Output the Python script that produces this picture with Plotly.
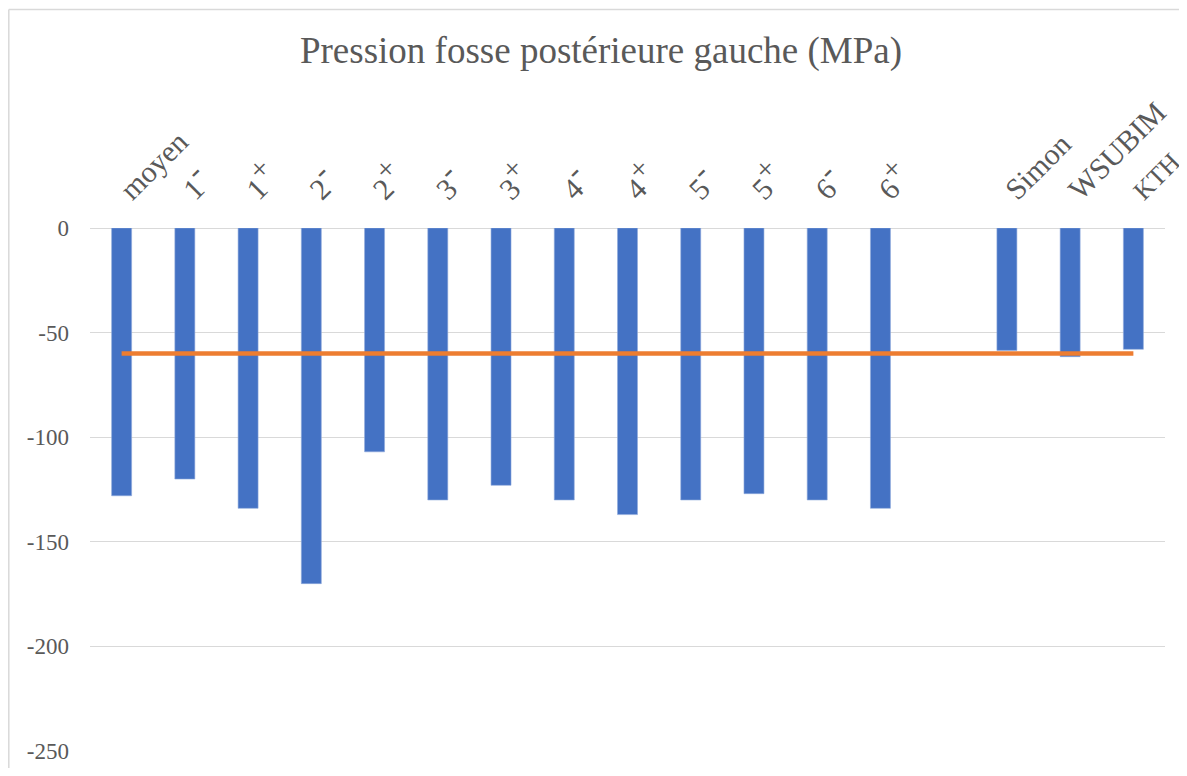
import plotly.graph_objects as go

SM = "<sup><span style='font-size:31px'>-</span></sup>"
SP = "<sup><span style='font-size:30px'>+</span></sup>"
categories = ["moyen", "1" + SM, "1" + SP, "2" + SM, "2" + SP,
              "3" + SM, "3" + SP, "4" + SM, "4" + SP,
              "5" + SM, "5" + SP, "6" + SM, "6" + SP,
              " ", "Simon", "WSUBIM", "<span style='font-size:26px'>KTH</span>"]
pressure = [-128, -120, -134, -170, -107, -130, -123, -130, -137,
            -130, -127, -130, -134, None, -58.5, -61.5, -58]
reference = [-60] * 17
y_ticks = [0, -50, -100, -150, -200, -250]

OFF = 8  # page body margin
W, H = 1187 - OFF, 776 - 2 * OFF
L, R = 90 - OFF, 1165 - OFF
T, B = 227.5 - OFF, 751 - OFF

fig = go.Figure()
fig.add_trace(go.Bar(
    x=categories, y=pressure,
    marker=dict(color="#4472C4", line=dict(color="#8FAADC", width=0.6)),
    showlegend=False,
))
fig.add_trace(go.Scatter(
    x=categories, y=reference, mode="lines",
    line=dict(color="#ED7D31", width=4.7),
    showlegend=False, connectgaps=True,
))

# figure-pixel -> paper coordinates
px = lambda x: (x - L) / (R - L)
py = lambda y: (B - y) / (B - T)

fig.update_layout(
    width=W, height=H,
    margin=dict(l=L, r=W - R, t=T, b=H - B, pad=0, autoexpand=False),
    paper_bgcolor="white", plot_bgcolor="white",
    bargap=0.684,
    title=dict(text="Pression fosse postérieure gauche (MPa)",
               font=dict(family="Liberation Serif", size=37, color="#595959"),
               x=(601 - OFF) / W, xanchor="center", xref="container",
               y=1 - (50 - OFF) / H, yanchor="middle", yref="container"),
    xaxis=dict(type="category", categoryorder="array", categoryarray=categories,
               side="top", tickangle=-45, showgrid=False, showline=False, zeroline=False,
               automargin=False,
               tickfont=dict(family="Liberation Serif", size=30, color="#595959"),
               ticklabelstandoff=15),
    yaxis=dict(range=[-250, 0], tickvals=y_ticks, ticktext=[str(v) for v in y_ticks],
               showgrid=True, gridcolor="#D9D9D9", gridwidth=1.3,
               zeroline=True, zerolinecolor="#D9D9D9", zerolinewidth=1.3,
               showline=False, automargin=False,
               tickfont=dict(family="Liberation Serif", size=23, color="#595959"),
               ticklabelstandoff=20),
    shapes=[
        dict(type="line", xref="paper", yref="paper",
             x0=px(0.8), x1=px(0.8), y0=py(0.8), y1=py(800),
             line=dict(color="#D9D9D9", width=1.5)),
        dict(type="line", xref="paper", yref="paper",
             x0=px(0.8), x1=px(1200), y0=py(0.8), y1=py(0.8),
             line=dict(color="#D9D9D9", width=1.5)),
    ],
)

fig.write_html("out.html")
